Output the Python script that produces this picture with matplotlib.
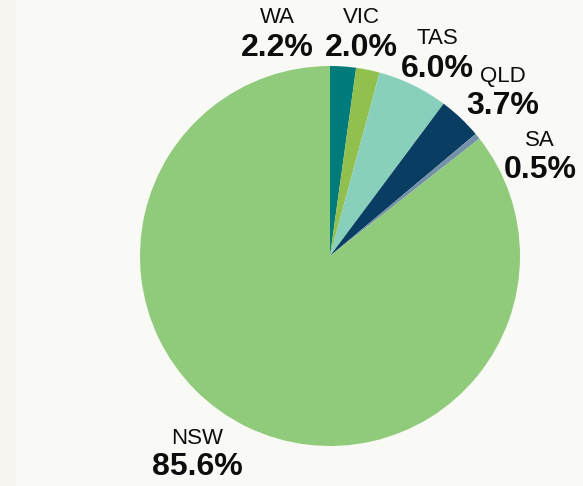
import matplotlib.pyplot as plt
from matplotlib.patches import Rectangle

plt.rcParams['font.family'] = ['Liberation Sans', 'DejaVu Sans']

# share of total by state
states = ['WA', 'VIC', 'TAS', 'QLD', 'SA', 'NSW']
shares = [2.2, 2.0, 6.0, 3.7, 0.5, 85.6]
colors = ['#007b7b', '#92c04e', '#88cfbc', '#0a3d62', '#7391a8', '#90cb7b']

# label anchor (x, y of name line, y of percent line) in pixel space
label_pos = {
    'WA': (277, 18, 48),
    'VIC': (361, 18, 48),
    'TAS': (437, 39, 69),
    'QLD': (503, 77, 106),
    'SA': (540, 140, 170),
    'NSW': (197, 438, 467),
}

W, H = 583, 486
fig = plt.figure(figsize=(W / 100, H / 100), dpi=100)
fig.patch.set_facecolor('#f9f9f5')
# slightly darker strip on the left edge
fig.patches.append(Rectangle((0, 0), 16 / W, 1, transform=fig.transFigure,
                             facecolor='#f6f5f0', edgecolor='none', zorder=-1))

ax = fig.add_axes([0, 0, 1, 1])
ax.pie(shares, colors=colors, startangle=90, counterclock=False,
       center=(330, H - 256), radius=190,
       wedgeprops=dict(linewidth=0), frame=True)
ax.set_xlim(0, W)
ax.set_ylim(0, H)
ax.set_aspect('equal')
ax.axis('off')

for name, val in zip(states, shares):
    x, y1, y2 = label_pos[name]
    ax.text(x, H - y1, name, ha='center', va='center', fontsize=16, color='#0d0d0d')
    ax.text(x, H - y2, f'{val:.1f}%', ha='center', va='center', fontsize=23,
            fontweight='bold', color='#0d0d0d')

fig.savefig('out.png', dpi=100, facecolor=fig.get_facecolor())
